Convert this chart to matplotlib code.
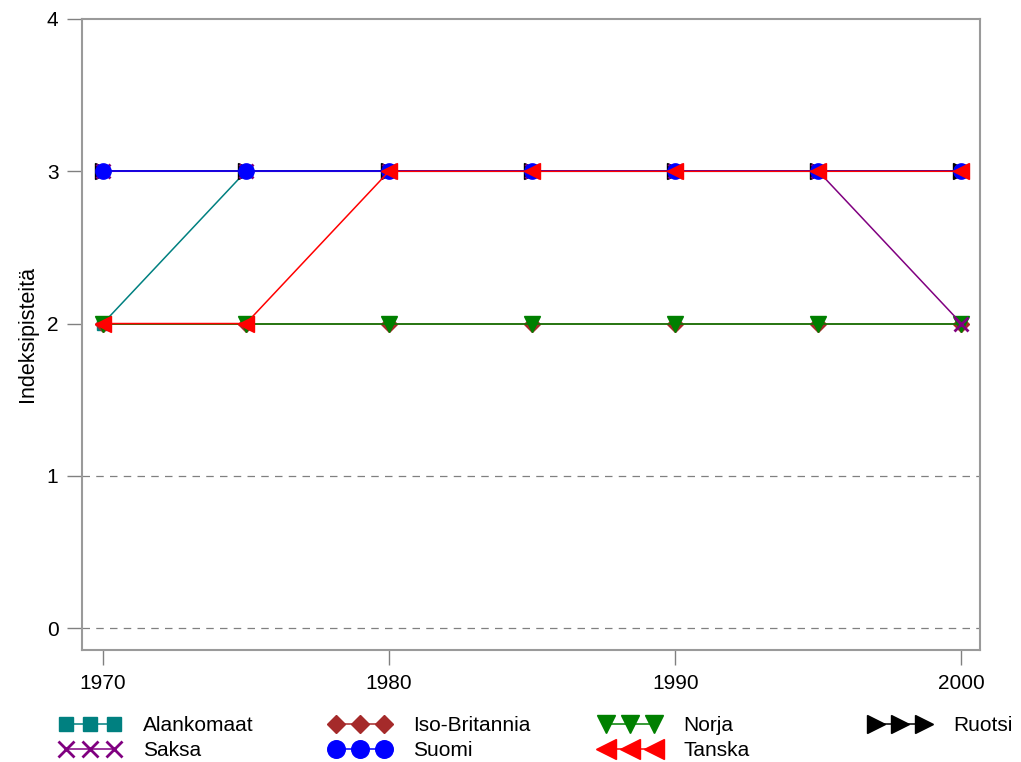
import matplotlib.pyplot as plt
import numpy as np

plt.rcParams.update({"font.family": "Liberation Sans", "font.size": 15})

years = [1970, 1975, 1980, 1985, 1990, 1995, 2000]
alankomaat = [2, 3, 3, 3, 3, 3, 3]
iso_britannia = [2, 2, 2, 2, 2, 2, 2]
norja = [2, 2, 2, 2, 2, 2, 2]
ruotsi = [3, 3, 3, 3, 3, 3, 3]
saksa = [3, 3, 3, 3, 3, 3, 2]
suomi = [3, 3, 3, 3, 3, 3, 3]
tanska = [2, 2, 3, 3, 3, 3, 3]

# drawing order (later on top), with marker, colour, size
series = [
    ("Alankomaat", alankomaat, "s", "#008080", 9),
    ("Iso-Britannia", iso_britannia, "D", "#a52a2a", 8),
    ("Norja", norja, "v", "#008000", 11),
    ("Ruotsi", ruotsi, ">", "black", 11),
    ("Saksa", saksa, "x", "#800080", 10),
    ("Suomi", suomi, "o", "blue", 11),
    ("Tanska", tanska, "<", "red", 12),
]

fig = plt.figure(figsize=(10.21, 7.62), dpi=100)
ax = fig.add_axes([82/1021, 1-650/762, (980-82)/1021, (650-19)/762])

ax.axhline(0, color='gray', ls=(0, (6, 5)), lw=0.9, zorder=0)
ax.axhline(1, color='gray', ls=(0, (6, 5)), lw=0.9, zorder=0)

handles = {}
for name, vals, m, c, ms in series:
    mew = 2.0 if m == "x" else 1
    h, = ax.plot(years, vals, color=c, marker=m, ms=ms, mew=mew, lw=1.1, label=name)
    handles[name] = h

ax.set_xlim(1969.27, 2000.65)
ax.set_ylim(-0.144, 4.0)
ax.set_xticks([1970, 1980, 1990, 2000])
ax.set_yticks([0, 1, 2, 3, 4])
ax.tick_params(axis='both', direction='out', length=11, width=1, color='#808080',
               labelsize=15, pad=6)
for s in ax.spines.values():
    s.set_color('#9a9a9a')
    s.set_linewidth(1.5)
ax.set_ylabel("Indeksipisteitä", fontsize=15.5, labelpad=6)

# legend: four equally spaced columns, filled row by row
cols = [["Alankomaat", "Saksa"], ["Iso-Britannia", "Suomi"], ["Norja", "Tanska"], ["Ruotsi"]]
col_x = [60, 330, 600, 870]
for names, x in zip(cols, col_x):
    fig.legend([handles[n] for n in names], names, loc='upper left',
               bbox_to_anchor=(x/1021, 1-716/762), frameon=False, fontsize=15,
               handlelength=2.9, borderpad=0, borderaxespad=0, markerscale=1.15,
               labelspacing=0.3, numpoints=3, handletextpad=1.1)

plt.savefig("out.png", dpi=100)
